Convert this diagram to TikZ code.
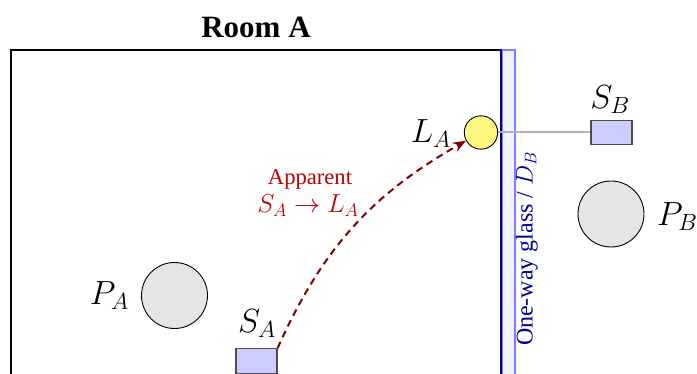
\RequirePackage{fix-cm}
\documentclass[tikz,border=0pt]{standalone}
\usepackage{fontspec}
\setmainfont{Liberation Serif}
\usetikzlibrary{arrows.meta}
\tikzset{
  person/.style={circle, draw=black, line width=0.9pt, fill=gray!20, minimum size=66pt, inner sep=0pt},
  lamp/.style={circle, draw=black, line width=0.9pt, fill=yellow!50, minimum size=33.4pt, inner sep=0pt},
  sensor/.style={rectangle, draw=black!70, line width=1.1pt, fill=blue!20, minimum width=41pt, minimum height=24.5pt, inner sep=0pt},
  mlabel/.style={font=\fontsize{33.5}{38}\selectfont, inner sep=0pt},
  apparent/.style={draw=red!50!black, line width=2pt, dash pattern=on 7pt off 5pt, -{Stealth[length=13pt,width=10pt]}},
  wire/.style={draw=black!30, line width=2pt},
  applabel/.style={text=red!75!black, font=\fontsize{22.6}{27}\selectfont, inner sep=0pt}
}
\begin{document}
\begin{tikzpicture}[x=1pt,y=-1pt]
\useasboundingbox (0,0) rectangle (697,374);
% room walls
\draw[line width=2pt] (11,374) -- (11,50) -- (501,50);
% glass
\fill[blue!5] (501,50) rectangle (515,374);
\draw[blue!50, line width=1.5pt] (502,374) -- (502,50) -- (515,50) -- (515,374);
\draw[blue!50!black, line width=2.2pt] (501,49) -- (501,374);
% title
\node[font=\fontsize{31}{36}\selectfont\bfseries] (title) at (256,27) {Room A};
% glass label
\node[rotate=90, text=blue!60!black, font=\fontsize{24}{28}\selectfont, inner sep=0pt] (glass) at (527,249) {One-way glass / $D_B$};
% people
\node[person] (pa) at (174.5,295.5) {};
\node[mlabel, anchor=east] (pal) at (129,296) {$P_A$};
\node[person] (pb) at (611,214) {};
\node[mlabel, anchor=west] (pbl) at (657,217) {$P_B$};
% sensors
\node[sensor] (sa) at (256.5,361) {};
\node[mlabel] (sal) at (257,324) {$S_A$};
\node[sensor] (sb) at (611.5,132.5) {};
\node[mlabel] (sbl) at (610,100) {$S_B$};
% lamp
\node[lamp] (la) at (481,132.5) {};
\node[mlabel, anchor=east] (lal) at (451,134) {$L_A$};
% connectors
\draw[wire] (la) -- (sb);
\draw[apparent] (sa.north east) to[bend left=18] (la);
% apparent label
\node[applabel] (app1) at (310,179) {Apparent};
\node[applabel, font=\fontsize{26}{30}\selectfont] (app2) at (308,206) {$S_A\rightarrow L_A$};
\end{tikzpicture}
\end{document}
